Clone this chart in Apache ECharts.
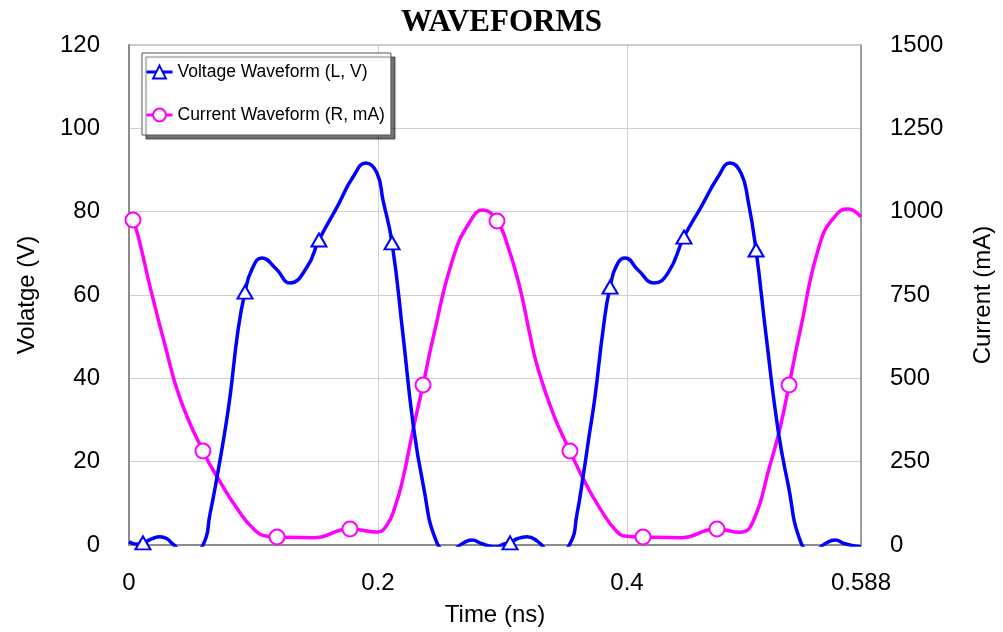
<!DOCTYPE html>
<html>
<head>
<meta charset="utf-8">
<title>WAVEFORMS</title>
<script src="https://cdn.jsdelivr.net/npm/echarts@6/dist/echarts.min.js"></script>
<style>
  html, body { margin: 0; padding: 0; background: #fff; }
  #chart { width: 1003px; height: 632px; }
</style>
</head>
<body>
<div id="chart"></div>
<script>
// 时间 (ns) / 电压 (V)
const voltTime = [0, 0.0064, 0.0112, 0.0193, 0.0249, 0.0305, 0.0353, 0.0474, 0.0594, 0.0651, 0.0707, 0.0763, 0.0811, 0.0876,
  0.0932, 0.0988, 0.1068, 0.1181, 0.1293, 0.1430, 0.1526, 0.1671, 0.1799, 0.1904, 0.1992, 0.2040, 0.2113, 0.2201,
  0.2281, 0.2362, 0.2474, 0.2579, 0.2675, 0.2755, 0.2836, 0.2940, 0.3020, 0.3061, 0.3117, 0.3197, 0.3277, 0.3422,
  0.3542, 0.3599, 0.3647, 0.3695, 0.3743, 0.3808, 0.3864, 0.3928, 0.3985, 0.4089, 0.4218, 0.4330, 0.4458, 0.4595,
  0.4731, 0.4828, 0.4916, 0.4972, 0.5037, 0.5117, 0.5214, 0.5294, 0.5398, 0.5495, 0.5591, 0.5672, 0.5752, 0.588]
const voltValue = [0.8, 0.2, 0.5, 1.6, 2.0, 1.5, 0.2, -2.5, 0, 7.5, 16.3, 26, 35.5, 51.6,
  60.7, 66.2, 68.9, 66.3, 62.9, 66.7, 73.2, 81.1, 88.3, 91.7, 89.3, 82.8, 72.5, 50.4,
  29.3, 14.6, 0.5, -1.5, 0.3, 1.2, 0.3, -0.5, 0.3, 0.5, 1.5, 2.0, 1.0, -2.5,
  0.3, 7.5, 16.3, 26, 35.5, 51.6, 61.9, 67.7, 68.9, 66, 62.9, 65.3, 73.9, 81.1,
  88.3, 91.7, 89.3, 82.8, 70.8, 50.4, 27.6, 14.6, 0.5, -1.5, 0.3, 1.2, 0.3, -0.5]
// 三角标记所在时间点
const voltMarks = [0.0112, 0.0932, 0.1526, 0.2113, 0.3061, 0.3864, 0.4458, 0.5037]

// 时间 (ns) / 电流 (mA)
const currTime = [0, 0.0032, 0.0088, 0.0169, 0.0289, 0.0410, 0.0594, 0.0731, 0.0867, 0.0996, 0.1109, 0.1189, 0.1478,
  0.1775, 0.1992, 0.2072, 0.2137, 0.2201, 0.2281, 0.2362, 0.2442, 0.2603, 0.2739, 0.2843, 0.2956, 0.3036, 0.3141,
  0.3221, 0.3277, 0.3406, 0.3542, 0.3647, 0.3783, 0.3920, 0.4000, 0.4129, 0.4426, 0.4723, 0.4908, 0.5012, 0.5149,
  0.5229, 0.5302, 0.5390, 0.5551, 0.5680, 0.5776, 0.588]
const currValue = [990, 975, 905, 775, 600, 440, 282, 190, 110, 50, 26, 24, 22,
  48, 39, 60, 115, 200, 345, 480, 620, 860, 970, 1005, 972, 905, 770,
  630, 540, 395, 282, 200, 110, 40, 26, 24, 22, 48, 38, 70, 240,
  350, 480, 640, 905, 990, 1008, 984]
// 圆形标记所在时间点
const currMarks = [0.0032, 0.0594, 0.1189, 0.1775, 0.2362, 0.2956, 0.3542, 0.4129, 0.4723, 0.5302]

const xTicks = [0, 0.2, 0.4, 0.588]
const leftTicks = [0, 20, 40, 60, 80, 100, 120]
const rightTicks = [0, 250, 500, 750, 1000, 1250, 1500]

const font = 'Liberation Sans, Arial, sans-serif'

function buildData (times, values, marks, symbol) {
  return times.map((t, i) => ({
    value: [t, values[i]],
    symbol: marks.includes(t) ? symbol : 'none'
  }))
}

let myChart = echarts.init(document.getElementById('chart'))

let option = {
  backgroundColor: '#fff',
  animation: false,
  title: {
    text: 'WAVEFORMS',
    left: 'center',
    top: 2,
    textStyle: { fontFamily: 'Liberation Serif, Times New Roman, serif', fontWeight: 'bold', fontSize: 31, color: '#000' }
  },
  legend: {
    orient: 'vertical',
    left: 142,
    top: 53,
    padding: [10, 6, 11, 3],
    itemGap: 25,
    itemWidth: 26,
    itemHeight: 16,
    backgroundColor: '#fff',
    borderColor: '#555',
    borderWidth: 1,
    borderRadius: 0,
    shadowColor: 'rgba(0,0,0,0.55)',
    shadowBlur: 1,
    shadowOffsetX: 4,
    shadowOffsetY: 4,
    lineStyle: { width: 3 },
    textStyle: { fontFamily: font, fontSize: 17.5, color: '#000' },
    data: ['Voltage Waveform (L, V)', 'Current Waveform (R, mA)']
  },
  grid: {
    left: 129,
    right: 142,
    top: 45,
    bottom: 87,
    show: true,
    borderColor: '#999',
    borderWidth: 1
  },
  xAxis: {
    type: 'value',
    min: xTicks[0],
    max: xTicks[xTicks.length - 1],
    interval: xTicks[1] - xTicks[0],
    name: 'Time (ns)',
    nameLocation: 'middle',
    nameGap: 58,
    nameTextStyle: { fontFamily: font, fontSize: 24, color: '#000' },
    axisLine: { lineStyle: { color: '#8c8c8c', width: 2 } },
    axisTick: { show: false },
    axisLabel: { fontFamily: font, fontSize: 24, color: '#000', margin: 26, showMaxLabel: true },
    splitLine: { show: true, lineStyle: { color: '#cfcfcf', width: 1 } }
  },
  yAxis: [
    {
      type: 'value',
      position: 'left',
      min: leftTicks[0],
      max: leftTicks[leftTicks.length - 1],
      interval: leftTicks[1] - leftTicks[0],
      name: 'Volatge (V)',
      nameLocation: 'middle',
      nameRotate: 90,
      nameGap: 90,
      nameTextStyle: { fontFamily: font, fontSize: 24, color: '#000' },
      axisLine: { show: true, lineStyle: { color: '#8c8c8c', width: 2 } },
      axisTick: { show: false },
      axisLabel: { fontFamily: font, fontSize: 24, color: '#000', margin: 29 },
      splitLine: { show: true, lineStyle: { color: '#cfcfcf', width: 1 } }
    },
    {
      type: 'value',
      position: 'right',
      min: rightTicks[0],
      max: rightTicks[rightTicks.length - 1],
      interval: rightTicks[1] - rightTicks[0],
      name: 'Current (mA)',
      nameLocation: 'middle',
      nameRotate: 90,
      nameGap: 110,
      nameTextStyle: { fontFamily: font, fontSize: 24, color: '#000' },
      axisLine: { show: true, lineStyle: { color: '#8c8c8c', width: 1.5 } },
      axisTick: { show: false },
      axisLabel: { fontFamily: font, fontSize: 24, color: '#000', margin: 29, formatter: (v) => String(v) },
      splitLine: { show: false }
    }
  ],
  series: [
    {
      name: 'Voltage Waveform (L, V)',
      type: 'line',
      yAxisIndex: 0,
      smooth: 0.5,
      clip: true,
      symbol: 'emptyTriangle',
      symbolSize: [15, 13],
      showSymbol: true,
      showAllSymbol: true,
      lineStyle: { color: '#0000ff', width: 3.5 },
      itemStyle: { color: '#0000ff', borderWidth: 2.5 },
      z: 3,
      data: buildData(voltTime, voltValue, voltMarks, 'emptyTriangle')
    },
    {
      name: 'Current Waveform (R, mA)',
      type: 'line',
      yAxisIndex: 1,
      smooth: 0.5,
      clip: true,
      symbol: 'emptyCircle',
      symbolSize: 15,
      showSymbol: true,
      showAllSymbol: true,
      lineStyle: { color: '#ff00ff', width: 3.5 },
      itemStyle: { color: '#ff00ff', borderWidth: 2.5 },
      z: 2,
      data: buildData(currTime, currValue, currMarks, 'emptyCircle')
    }
  ]
}

myChart.setOption(option)
window.addEventListener('resize', () => { myChart.resize() })
</script>
</body>
</html>
